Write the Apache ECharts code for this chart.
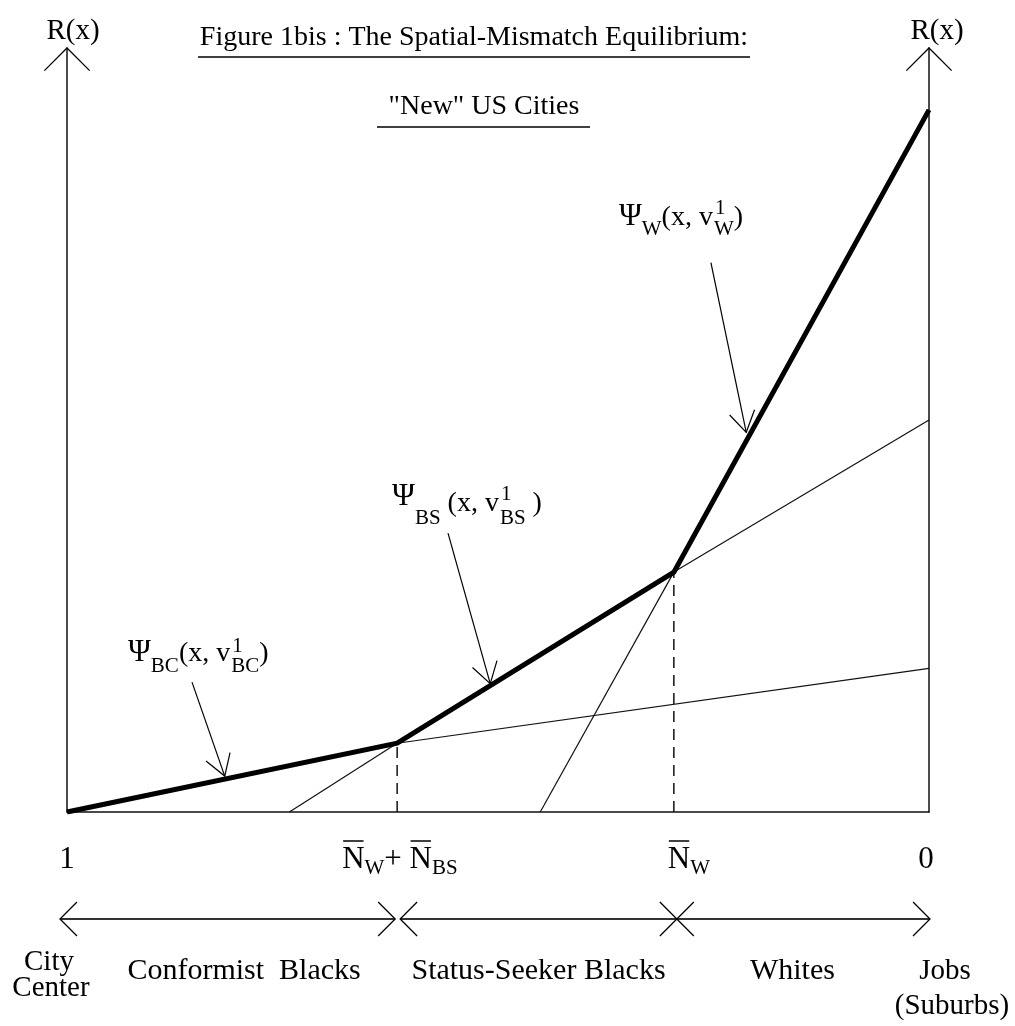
<!DOCTYPE html>
<html>
<head>
<meta charset="utf-8">
<script src="https://cdn.jsdelivr.net/npm/echarts@6/dist/echarts.min.js"></script>
<style>
  html, body { margin: 0; padding: 0; background: #fff; }
  #chart { width: 1015px; height: 1026px; }
</style>
</head>
<body>
<div id="chart"></div>
<script>
// x runs from 1 (city center, left) to 0 (jobs / suburbs, right), y is the rent R(x)
const kinkX = [0.617, 0.296];            // N_W + N_BS , N_W
const kinkY = [9.0, 31.4];
const equilibrium = [[1, 0], [0.617, 9.0], [0.296, 31.4], [0, 91.9]];
const bcRent = [[0.617, 9.0], [0, 18.8]];
const bsRentLow = [[0.742, 0], [0.617, 9.0]];
const bsRentHigh = [[0.296, 31.4], [0, 51.3]];
const wRent = [[0.451, 0], [0.296, 31.4]];

// pointer arrows: tailX, tailY, tipX, tipY
const pointers = [
  [0.253, 71.9, 0.212, 49.7],
  [0.558, 36.5, 0.509, 16.8],
  [0.855, 17.0, 0.817, 4.7]
];
const pointerGroups = ['W', 'BS', 'BC'];

const tickValues = [1, 0.617, 0.296, 0];
const groups = [[1, 0.617], [0.617, 0.296], [0.296, 0]];
const groupNames = ['Conformist  Blacks', 'Status-Seeker Blacks', 'Whites'];
const endNames = [['City', 'Center'], ['Jobs', '(Suburbs)']];

const FONT = '"Liberation Serif", "Times New Roman", serif';
const meter = document.createElement('canvas').getContext('2d');
function textWidth(s, size) {
  meter.font = size + 'px ' + FONT;
  return meter.measureText(s).width;
}

function line(points, width, color) {
  return {
    type: 'polyline',
    shape: { points },
    style: { stroke: color || '#000', lineWidth: width || 1, fill: null }
  };
}

function text(str, x, y, size, align) {
  return {
    type: 'text', x, y,
    style: { text: str, font: size + 'px ' + FONT, fill: '#000', align: align || 'center', verticalAlign: 'middle' }
  };
}

// open arrow head at tip, coming from "from"
function head(tip, from, len, ang) {
  const dx = tip[0] - from[0], dy = tip[1] - from[1];
  const d = Math.hypot(dx, dy);
  const ux = dx / d, uy = dy / d;
  const rot = s => [ux * Math.cos(s) - uy * Math.sin(s), ux * Math.sin(s) + uy * Math.cos(s)];
  const r = ang * Math.PI / 180;
  const a = rot(r), b = rot(-r);
  return [[tip[0] - len * a[0], tip[1] - len * a[1]], tip, [tip[0] - len * b[0], tip[1] - len * b[1]]];
}

// little formula layout: main text, subscripts, stacked superscripts, overlines
function formula(parts, base, main, sub) {
  const els = [];
  let cx = 0;
  parts.forEach(p => {
    const size = p.s ? sub : (p.big || main);
    const w = Math.max(textWidth(p.t, size), p.sup ? textWidth(p.sup, size) : 0);
    els.push(text(p.t, cx, base + (p.dy || 0) - 0.33 * size, size, 'left'));
    if (p.sup) els.push(text(p.sup, cx + 1, base + p.supDy - 0.33 * size, size, 'left'));
    if (p.over) els.push(line([[cx + 1, base - 29], [cx + w - 1, base - 29]], 1.5));
    cx += w + (p.gap || 0);
  });
  return { els, width: cx };
}

function psiLabel(g, psiDy, subDy, supDy, space) {
  return [
    { t: 'Ψ', dy: psiDy, big: 31 },
    { t: g, s: true, dy: subDy },
    { t: space + '(x, v', gap: 1 },
    { t: g, s: true, dy: subDy, sup: '1', supDy: supDy },
    { t: space.length ? ' )' : ')' }
  ];
}
const pointerLabels = [
  psiLabel('W', 0, 10, -11, ''),
  psiLabel('BS', -6, 12, -12, ' '),
  psiLabel('BC', 0, 10, -10, '')
];
// label start / baseline relative to pointer tail (px)
const pointerLabelPos = [[-92, -36], [-56, -20], [-64, -19]];

const tickLabels = [
  [{ t: '1' }],
  [{ t: 'N', over: true }, { t: 'W', s: true, dy: 5 }, { t: '+ ' }, { t: 'N', over: true }, { t: 'BS', s: true, dy: 5 }],
  [{ t: 'N', over: true }, { t: 'W', s: true, dy: 5 }],
  [{ t: '0' }]
];
const tickLabelPos = [['center', 0], ['left', -55], ['left', -6], ['center', -3]];

const chart = echarts.init(document.getElementById('chart'));

const thin = { color: '#111', width: 1.2 };

chart.setOption({
  animation: false,
  backgroundColor: '#fff',
  grid: { left: 67, right: 86, top: 48, bottom: 214 },
  xAxis: {
    type: 'value', min: 0, max: 1, inverse: true,
    axisLine: { show: true, onZero: false, lineStyle: { color: '#111', width: 1.5 } },
    axisTick: { show: false }, axisLabel: { show: false }, splitLine: { show: false }
  },
  yAxis: [
    {
      type: 'value', min: 0, max: 100, position: 'left',
      axisLine: { show: true, onZero: false, lineStyle: { color: '#111', width: 1.5 } },
      axisTick: { show: false }, axisLabel: { show: false }, splitLine: { show: false }
    },
    {
      type: 'value', min: 0, max: 100, position: 'right',
      axisLine: { show: true, onZero: false, lineStyle: { color: '#111', width: 1.5 } },
      axisTick: { show: false }, axisLabel: { show: false }, splitLine: { show: false }
    }
  ],
  graphic: [
    { type: 'text', x: 474, y: 38, style: { text: 'Figure 1bis : The Spatial-Mismatch Equilibrium:', font: '28px ' + FONT, fill: '#000', align: 'center', verticalAlign: 'middle' } },
    { type: 'line', shape: { x1: 198, y1: 57, x2: 750, y2: 57 }, style: { stroke: '#000', lineWidth: 1.5 } },
    { type: 'text', x: 484, y: 107, style: { text: '"New" US Cities', font: '28px ' + FONT, fill: '#000', align: 'center', verticalAlign: 'middle' } },
    { type: 'line', shape: { x1: 377, y1: 127, x2: 590, y2: 127 }, style: { stroke: '#000', lineWidth: 1.5 } }
  ],
  series: [
    { name: 'BC', type: 'line', data: bcRent, symbol: 'none', lineStyle: thin, silent: true },
    { name: 'BS low', type: 'line', data: bsRentLow, symbol: 'none', lineStyle: thin, silent: true },
    { name: 'BS high', type: 'line', data: bsRentHigh, symbol: 'none', lineStyle: thin, silent: true },
    { name: 'W', type: 'line', data: wRent, symbol: 'none', lineStyle: thin, silent: true },
    ...kinkX.map((x, i) => ({
      name: 'drop' + i, type: 'line', data: [[x, 0], [x, kinkY[i]]], symbol: 'none', silent: true,
      lineStyle: { color: '#111', width: 1.5, type: [11, 7] }
    })),
    {
      name: 'equilibrium', type: 'line', data: equilibrium, symbol: 'none', silent: true,
      lineStyle: { color: '#000', width: 5, join: 'miter' }, z: 5
    },
    {
      // arrow heads on the two R(x) axes and their names
      type: 'custom', silent: true, data: [[1, 100], [0, 100]],
      renderItem(params, api) {
        const p = api.coord([api.value(0), api.value(1)]);
        return {
          type: 'group',
          children: [
            line(head(p, [p[0], p[1] + 10], 32, 45), 1.3),
            text('R(x)', p[0] + (params.dataIndex ? 8 : 6), p[1] - 17, 29)
          ]
        };
      }
    },
    {
      // pointers with psi labels
      type: 'custom', silent: true, data: pointers,
      renderItem(params, api) {
        const a = api.coord([api.value(0), api.value(1)]);
        const b = api.coord([api.value(2), api.value(3)]);
        const pos = pointerLabelPos[params.dataIndex];
        const f = formula(pointerLabels[params.dataIndex], a[1] + pos[1], 28, 21);
        return {
          type: 'group',
          children: [
            line([a, b], 1.2),
            line(head(b, a, 24, 32), 1.2),
            { type: 'group', x: a[0] + pos[0], children: f.els }
          ]
        };
      }
    },
    {
      // labels under the x axis
      type: 'custom', silent: true, data: tickValues.map(v => [v, 0]),
      renderItem(params, api) {
        const p = api.coord([api.value(0), 0]);
        const pos = tickLabelPos[params.dataIndex];
        const f = formula(tickLabels[params.dataIndex], p[1] + 58, 31, 21);
        const gx = p[0] + pos[1] - (pos[0] === 'center' ? f.width / 2 : 0);
        return { type: 'group', x: gx, children: f.els };
      }
    },
    {
      // population groups: double arrows and names
      type: 'custom', silent: true, data: groups,
      renderItem(params, api) {
        const i = params.dataIndex;
        const a = api.coord([api.value(0), 0]);
        const b = api.coord([api.value(1), 0]);
        const y = a[1] + 107;
        const l = [a[0] + [-7, 3, 3][i], y];
        const r = [b[0] + [-2, 3, 1][i], y];
        const shift = [12, 3, -9][i];
        return {
          type: 'group',
          children: [
            line([l, r], 2, '#333'),
            line(head(l, r, 24, 45), 1.3),
            line(head(r, l, 24, 45), 1.3),
            text(groupNames[i], (a[0] + b[0]) / 2 + shift, a[1] + 159, 30)
          ]
        };
      }
    },
    {
      // ends of the city
      type: 'custom', silent: true, data: [[1, 0], [0, 0]],
      renderItem(params, api) {
        const p = api.coord([api.value(0), 0]);
        const names = endNames[params.dataIndex];
        const lay = params.dataIndex ? [[16, 159], [23, 194]] : [[-18, 150], [-16, 176]];
        return {
          type: 'group',
          children: names.map((n, k) => text(n, p[0] + lay[k][0], p[1] + lay[k][1], 29))
        };
      }
    }
  ]
});
</script>
</body>
</html>
